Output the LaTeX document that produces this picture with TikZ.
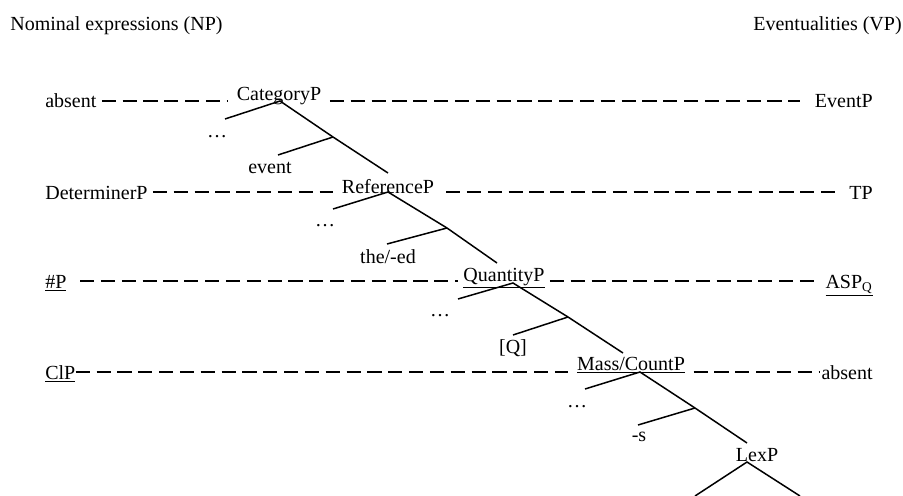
\documentclass[tikz,border=0pt]{standalone}
\usepackage{fontspec}
\setmainfont{Liberation Serif}
\begin{document}
\begin{tikzpicture}[x=0.6pt, y=-0.6pt]
	\tikzset{mot/.style={font=\fontsize{12}{14}\selectfont, inner sep=0pt},
		bord/.style={mot, inner xsep=3pt},
		projection/.style={mot, inner xsep=5pt, anchor=base},
		tiret/.style={line width=1.2pt, dash pattern=on 8.5pt off 4pt},
		branche/.style={line width=0.9pt}};

	\useasboundingbox (0,0) rectangle (903,496);

	\node[mot, anchor=base west] (np) at (  10,   31) {Nominal expressions (NP)};
	\node[mot, anchor=base east] (vp) at ( 902,   31) {Eventualities (VP)};

	\coordinate (r1) at (0, 101);
	\coordinate (r2) at (0, 192);
	\coordinate (r3) at (0, 281);
	\coordinate (r4) at (0, 372);

	\node[bord, anchor=base west] (abs1) at (  40,  108) {absent};
	\node[bord, anchor=base west] (det)  at (  40,  199) {DeterminerP};
	\node[bord, anchor=base west] (dieseP) at (  40,  288) {\underline{\#P}};
	\node[bord, anchor=base west] (clP)  at (  40,  379) {\underline{ClP}};

	\node[bord, anchor=base east] (evt)  at ( 878,  108) {EventP};
	\node[bord, anchor=base east] (tP)   at ( 878,  199) {TP};
	\node[bord, anchor=base east] (asp)  at ( 878,  288) {\underline{ASP\textsubscript{Q}}};
	\node[bord, anchor=base east] (abs2) at ( 878,  379) {absent};

	\node[projection] (cat)   at ( 279,  101) {CategoryP};
	\node[projection] (ref)   at ( 388,  193) {ReferenceP};
	\node[projection] (quant) at ( 504,  281) {\underline{QuantityP}};
	\node[projection] (mass)  at ( 631,  370) {\underline{Mass/CountP}};
	\node[projection] (lex)   at ( 757,  461) {LexP};

	% lignes pointillees
	\draw[tiret] (abs1.east |- r1) -- (cat.west |- r1);
	\draw[tiret] (cat.east |- r1) -- ([xshift=-6pt]evt.west |- r1);
	\draw[tiret] (det.east |- r2) -- (ref.west |- r2);
	\draw[tiret] ([xshift=2pt]ref.east |- r2) -- ([xshift=-2pt]tP.west |- r2);
	\draw[tiret] ([xshift=5pt]dieseP.east |- r3) -- ([xshift=2pt]quant.west |- r3);
	\draw[tiret] ([xshift=-2pt]quant.east |- r3) -- ([xshift=-3pt]asp.west |- r3);
	\draw[tiret] ([xshift=-3pt]clP.east |- r4) -- (mass.west |- r4);
	\draw[tiret] (mass.east |- r4) -- ([xshift=2pt]abs2.west |- r4);

	% arbre
	\coordinate (c0) at ( 280,  101);
	\coordinate (cG) at ( 225,  119);
	\coordinate (c1) at ( 333,  137);
	\coordinate (cS) at ( 278,  155);
	\coordinate (cD) at ( 388,  173);

	\coordinate (f0) at ( 388,  192);
	\coordinate (fG) at ( 333,  209);
	\coordinate (f1) at ( 447,  228);
	\coordinate (fS) at ( 387,  244);
	\coordinate (fD) at ( 497,  263);

	\coordinate (q0) at ( 513,  283);
	\coordinate (qG) at ( 458,  299);
	\coordinate (q1) at ( 568,  317);
	\coordinate (qS) at ( 513,  335);
	\coordinate (qD) at ( 623,  353);

	\coordinate (m0) at ( 640,  372);
	\coordinate (mG) at ( 585,  389);
	\coordinate (m1) at ( 695,  408);
	\coordinate (mS) at ( 638,  425);
	\coordinate (mD) at ( 747,  443);

	\coordinate (l0) at ( 747,  462);
	\coordinate (lG) at ( 695,  496);
	\coordinate (lD) at ( 800,  496);

	\draw[branche] (cG) -- (c0) -- (c1) -- (cD);
	\draw[branche] (c1) -- (cS);
	\draw[branche] (fG) -- (f0) -- (f1) -- (fD);
	\draw[branche] (f1) -- (fS);
	\draw[branche] (qG) -- (q0) -- (q1) -- (qD);
	\draw[branche] (q1) -- (qS);
	\draw[branche] (mG) -- (m0) -- (m1) -- (mD);
	\draw[branche] (m1) -- (mS);
	\draw[branche] (lG) -- (l0) -- (lD);

	\node[mot] (pts1) at ( 217,  137) {…};
	\node[mot] (pts2) at ( 325,  226) {…};
	\node[mot] (pts3) at ( 440,  316) {…};
	\node[mot] (pts4) at ( 577,  407) {…};

	\node[mot] (spec1) at ( 270,  168) {event};
	\node[mot] (spec2) at ( 388,  257) {the/-ed};
	\node[mot] (spec3) at ( 513,  348) {[Q]};
	\node[mot] (spec4) at ( 639,  437) {-s};

\end{tikzpicture}
\end{document}
